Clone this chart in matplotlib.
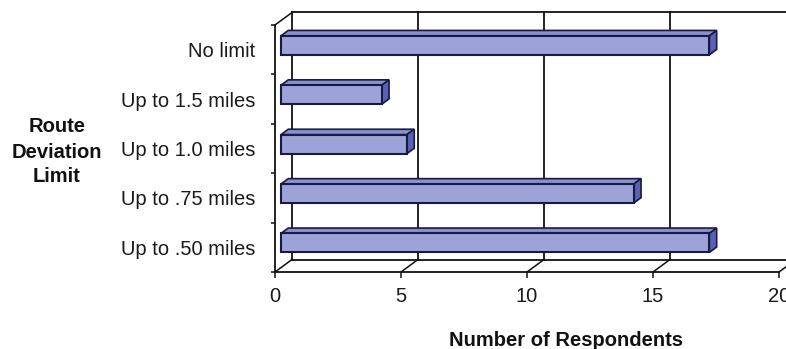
import matplotlib.pyplot as plt
from matplotlib.patches import Polygon

# Survey responses: route deviation limit vs number of respondents
categories = ['Up to .50 miles', 'Up to .75 miles', 'Up to 1.0 miles',
              'Up to 1.5 miles', 'No limit']
respondents = [17, 14, 5, 4, 17]
x_ticks = [0, 5, 10, 15, 20]

plt.rcParams['font.family'] = ['Liberation Sans', 'DejaVu Sans']

face_color = '#9da2d8'
top_color = '#8a90cc'
side_color = '#5a60b4'
edge_color = '#161a45'
line_color = '#111111'
text_color = '#1a1a1a'

fig = plt.figure(figsize=(7.86, 3.49), dpi=100)
ax = fig.add_axes([275 / 786, 77 / 349, 504 / 786, 247 / 349])
ax.set_xlim(0, 20)
ax.set_ylim(-0.5, len(categories) - 0.5)

# depth of the 3D box in data units (back wall offset)
DX = 17 / 25.2
DY = 12.5 / 49.4
y0, y1 = -0.5, len(categories) - 0.5

# back wall, floor and left wall outlines
ax.plot([DX, DX + 21], [y1 + DY, y1 + DY], color=line_color, lw=1.3, clip_on=False, zorder=1)
ax.plot([DX, DX + 21], [y0 + DY, y0 + DY], color=line_color, lw=1.3, clip_on=False, zorder=1)
for k in x_ticks:
    ax.plot([k + DX, k + DX], [y0 + DY, y1 + DY], color=line_color, lw=1.3, clip_on=False, zorder=1)
    ax.plot([k, k + DX], [y0, y0 + DY], color=line_color, lw=1.1, clip_on=False, zorder=1)
ax.plot([0, DX], [y1, y1 + DY], color=line_color, lw=1.1, clip_on=False, zorder=1)

# bars: front face, top face and right end
f0, f1 = 0.35, 0.78
h = 0.385
for i, v in enumerate(respondents):
    cy = i + f0 * DY
    ax.barh(cy, v, left=f0 * DX, height=h, color=face_color,
            edgecolor=edge_color, linewidth=1.5, zorder=4, clip_on=False)
    top = Polygon([(f0 * DX, cy + h / 2), (v + f0 * DX, cy + h / 2),
                   (v + f1 * DX, i + f1 * DY + h / 2), (f1 * DX, i + f1 * DY + h / 2)],
                  closed=True, facecolor=top_color, edgecolor=edge_color,
                  linewidth=1.2, zorder=3, clip_on=False)
    side = Polygon([(v + f0 * DX, cy - h / 2), (v + f0 * DX, cy + h / 2),
                    (v + f1 * DX, i + f1 * DY + h / 2), (v + f1 * DX, i + f1 * DY - h / 2)],
                   closed=True, facecolor=side_color, edgecolor=edge_color,
                   linewidth=1.2, zorder=3, clip_on=False)
    ax.add_patch(top)
    ax.add_patch(side)

for s in ['top', 'right']:
    ax.spines[s].set_visible(False)
for s in ['left', 'bottom']:
    ax.spines[s].set_color(line_color)
    ax.spines[s].set_linewidth(1.3)

ax.set_xticks(x_ticks)
ax.set_xticklabels([str(t) for t in x_ticks])
ax.tick_params(axis='x', direction='out', length=4, width=1.1, pad=7,
               labelsize=14.5, colors=line_color, labelcolor=text_color)

ax.set_yticks(range(len(categories)))
ax.set_yticklabels(categories)
ax.set_yticks([y0 + k for k in range(len(categories) + 1)], minor=True)
ax.tick_params(axis='y', which='major', length=0, pad=14, labelsize=14.5, labelcolor=text_color)
ax.tick_params(axis='y', which='minor', direction='out', length=3, width=1.1, colors=line_color)

fig.text(57 / 786, 1 - 152 / 349, 'Route\nDeviation\nLimit', ha='center', va='center',
         fontsize=14.5, fontweight='bold', color='#111111', linespacing=1.4)
fig.text(566 / 786, 1 - 341 / 349, 'Number of Respondents', ha='center', va='center',
         fontsize=14.5, fontweight='bold', color='#111111')

fig.savefig('out.png', dpi=100)
